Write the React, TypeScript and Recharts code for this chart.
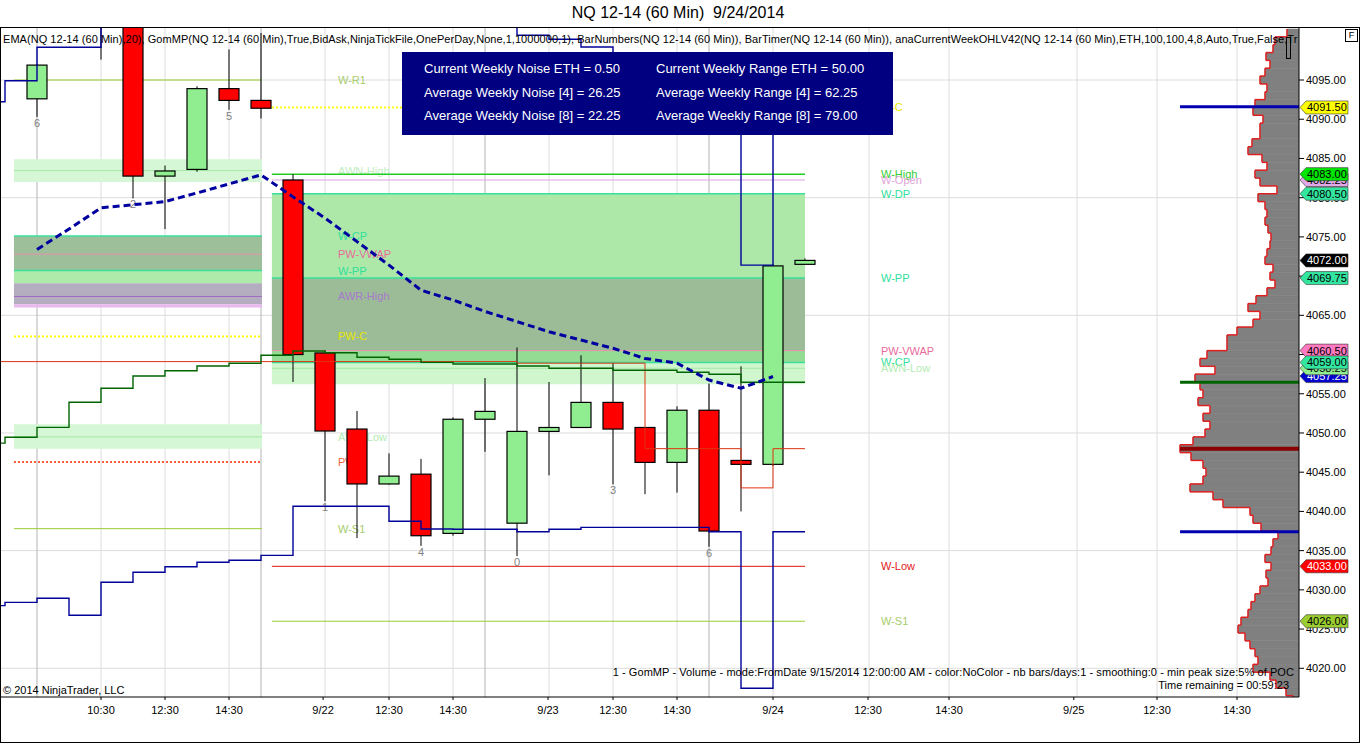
import React from "react";
import {
  ComposedChart,
  XAxis,
  YAxis,
  Bar,
  Line,
  ReferenceLine,
  ReferenceArea,
} from "recharts";

// hourly bar slots, 0 = first bar on screen
const slots = [-2, -1, 0, 1, 2, 3, 4, 5, 6, 7, 8, 9, 10, 11, 12, 13, 14, 15, 16, 17, 18, 19, 20, 21, 22, 23, 24];

// OHLC (bars 1-3 run off the top of the panel)
const opens = [null, null, 4092.6, 4103.5, 4108.0, 4104.5, 4082.75, 4083.6, 4093.9, 4092.4, 4082.25, 4060.2, 4050.5, 4043.5, 4044.75, 4037.2, 4051.75, 4038.5, 4050.2, 4050.7, 4053.9, 4050.7, 4046.25, 4052.9, 4046.5, 4046.0, 4071.5];
const highs = [null, null, 4097.0, 4110.0, 4112.0, 4106.0, 4084.1, 4094.2, 4098.9, 4101.0, 4083.0, 4060.5, 4052.8, 4047.4, 4046.7, 4052.0, 4057.0, 4060.9, 4056.5, 4059.9, 4058.9, 4050.7, 4053.4, 4056.3, 4058.5, 4071.5, 4072.25];
const lows = [null, null, 4090.3, 4102.5, 4097.6, 4079.9, 4076.0, 4083.3, 4091.2, 4090.1, 4056.5, 4041.3, 4036.6, 4043.4, 4035.6, 4036.9, 4047.6, 4034.3, 4044.6, 4050.7, 4043.45, 4042.2, 4042.4, 4035.5, 4040.0, 4045.8, 4071.5];
const closes = [null, null, 4096.9, 4108.0, 4106.0, 4082.75, 4083.4, 4093.9, 4092.4, 4091.4, 4060.0, 4050.25, 4043.5, 4044.5, 4036.9, 4051.75, 4052.75, 4050.2, 4050.7, 4053.9, 4050.5, 4046.25, 4052.9, 4037.5, 4046.0, 4071.3, 4072.0];
const barNumbers = ["", "", "6", "", "", "2", "", "", "5", "", "", "1", "", "", "4", "", "", "0", "", "", "3", "", "", "6", "", "", ""];

const ema20 = [null, null, 4073.4, 4076.0, 4078.7, 4079.1, 4079.5, 4080.6, 4081.75, 4082.9, 4080.1, 4077.4, 4074.4, 4071.4, 4068.2, 4066.95, 4065.5, 4064.2, 4062.9, 4061.85, 4060.8, 4059.5, 4058.9, 4056.75, 4055.7, 4057.2, null];

// GomMP step lines
const gomGreen = [4048.7, 4049.45, 4050.72, 4053.91, 4055.7, 4057.26, 4057.94, 4058.54, 4058.88, 4059.9, 4060.45, 4060.23, 4059.65, 4059.39, 4059.0, 4058.8, 4058.8, 4058.54, 4058.25, 4058.25, 4058.0, 4058.0, 4057.74, 4057.48, 4056.46, 4056.46, 4056.46];
const gomLow = [4027.99, 4028.41, 4028.93, 4026.76, 4030.96, 4032.24, 4032.95, 4033.51, 4033.77, 4034.4, 4040.65, 4040.65, 4040.65, 4038.74, 4037.76, 4037.72, 4037.72, 4037.41, 4037.72, 4037.97, 4037.97, 4037.97, 4037.97, 4037.41, 4017.45, 4037.41, 4037.41];
const gomHigh = [4092.23, 4094.9, 4099.17, 4099.17, 4103.2, 4104.1, 4104.6, 4105.0, 4105.2, 4105.5, 4104.0, 4103.8, 4103.5, 4103.2, 4102.9, 4102.6, 4102.2, 4100.7, 4100.2, 4099.2, 4098.3, 4097.2, 4097.2, 4097.2, 4071.4, 4091.6, 4091.6];
const gomRed = [4059.1, 4059.1, 4059.1, 4059.1, 4059.1, 4059.1, 4059.1, 4059.1, 4059.1, 4059.1, 4059.1, 4059.1, 4059.1, 4059.1, 4059.1, 4059.1, 4059.1, 4058.9, 4058.9, 4058.9, 4058.9, 4048.0, 4048.0, 4048.0, 4043.0, 4048.0, 4048.0];

// previous week levels (left block) and current week levels (right block)
const prevLevelNames = ["W-R1", "AWN-High", "W-CP", "PW-VWAP", "W-PP", "AWR-High", "PW-C", "AWN-Low", "PW-L", "W-S1"];
const prevLevelPrices = [4095.0, 4083.45, 4075.1, 4072.8, 4070.7, 4067.4, 4062.3, 4049.5, 4046.3, 4037.8];
const prevZoneLows = [4082.0, 4070.7, 4069.1, 4066.4, 4066.0, 4048.0];
const prevZoneHighs = [4084.9, 4075.1, 4070.7, 4069.1, 4066.4, 4051.1];

const curLevelNames = ["W-C", "W-High", "W-Open", "W-DP", "W-PP", "PW-VWAP", "W-CP", "AWN-Low", "W-Low", "W-S1"];
const curLevelPrices = [4091.5, 4083.0, 4082.25, 4080.5, 4069.75, 4060.5, 4059.0, 4058.25, 4033.0, 4026.0];
const curZoneLows = [4069.75, 4060.5, 4059.0, 4056.2];
const curZoneHighs = [4080.5, 4069.75, 4060.5, 4059.0];

// price markers on the right scale
const markerPrices = [4091.5, 4082.25, 4083.0, 4080.5, 4072.0, 4069.75, 4060.5, 4057.25, 4058.25, 4059.0, 4033.0, 4026.0];
const markerNames = ["W-C", "W-Open", "W-High", "W-DP", "Last", "W-PP", "PW-VWAP", "GomLow", "AWN-Low", "W-CP", "W-Low", "W-S1"];

// volume profile, one row per point
const profilePrices = [
  4016, 4017, 4018, 4019, 4020, 4021, 4022, 4023, 4024, 4025, 4026, 4027, 4028, 4029, 4030,
  4031, 4032, 4033, 4034, 4035, 4036, 4037, 4038, 4039, 4040, 4041, 4042, 4043, 4044, 4045,
  4046, 4047, 4048, 4049, 4050, 4051, 4052, 4053, 4054, 4055, 4056, 4057, 4058, 4059, 4060,
  4061, 4062, 4063, 4064, 4065, 4066, 4067, 4068, 4069, 4070, 4071, 4072, 4073, 4074, 4075,
  4076, 4077, 4078, 4079, 4080, 4081, 4082, 4083, 4084, 4085, 4086, 4087, 4088, 4089, 4090,
  4091, 4092, 4093, 4094, 4095, 4096, 4097, 4098, 4099, 4100, 4101,
];
const profileVol = [
  6, 13, 23, 29, 46, 41, 44, 49, 54, 61, 58, 51, 48, 44, 39,
  31, 33, 28, 34, 28, 26, 21, 38, 46, 49, 76, 86, 109, 96, 93,
  96, 108, 119, 106, 94, 89, 96, 89, 101, 96, 99, 104, 84, 99, 92,
  72, 72, 62, 46, 39, 51, 43, 32, 24, 29, 26, 34, 32, 29, 28,
  31, 34, 32, 34, 41, 22, 39, 44, 32, 37, 51, 47, 39, 39, 36,
  46, 44, 34, 32, 39, 34, 29, 33, 26, 24, 12,
];

const priceTicks = [4020, 4025, 4030, 4035, 4040, 4045, 4050, 4055, 4060, 4065, 4070, 4075, 4080, 4085, 4090, 4095];
const gridPrices = [4020, 4035, 4050, 4065, 4080, 4095];
const timeTicks = [2, 4, 6, 8.94, 11, 13, 15.97, 18, 20, 23, 25.97, 28.5, 32.4, 35, 37.5];
const timeLabels = ["10:30", "12:30", "14:30", "9/22", "12:30", "14:30", "9/23", "12:30", "14:30", "9/24", "12:30", "14:30", "9/25", "12:30", "14:30"];
const gridSlots = [2, 4, 6, 9, 11, 13, 16, 18, 20, 23, 26, 28.5, 32.5, 35, 37.5];
const sessionSlots = [0, 7, 14, 21];

const X_MIN = -1.125;
const X_MAX = 39.4375;
const Y_MIN = 4016.34;
const Y_MAX = 4101.63;
const PREV_START = -0.72;
const PREV_END = 7.03;
const CUR_START = 7.34;
const CUR_END = 24.0;
const PROFILE_LEFT = 35.72;
const VOL_PER_SLOT = 32;

const FONT = '"Liberation Sans", Arial, sans-serif';

const LEVEL_STYLE: Record<string, { stroke: string; width: number; dash?: string; text: string }> = {
  "W-R1": { stroke: "#9acd32", width: 1, text: "#a6cc6a" },
  "W-S1": { stroke: "#9acd32", width: 1, text: "#a6cc6a" },
  "AWN-High": { stroke: "#a4e8a4", width: 1, text: "#bfeebf" },
  "AWN-Low": { stroke: "#a4e8a4", width: 1, text: "#b4ecb4" },
  "W-CP": { stroke: "#38e09c", width: 1.5, text: "#2ee09a" },
  "W-PP": { stroke: "#38e09c", width: 1.5, text: "#2ee09a" },
  "W-DP": { stroke: "#38e09c", width: 1.5, text: "#2ee09a" },
  "PW-VWAP": { stroke: "#e890b0", width: 1, text: "#ea6a9c" },
  "AWR-High": { stroke: "#a06cc4", width: 1, text: "#a878cc" },
  "PW-C": { stroke: "#ffff00", width: 2, dash: "2 2", text: "#e6e600" },
  "W-C": { stroke: "#ffff00", width: 2, dash: "2 2", text: "#e6e600" },
  "PW-L": { stroke: "#ff5a3c", width: 2, dash: "2 2", text: "#f06040" },
  "W-High": { stroke: "#22cc22", width: 1.5, text: "#33cc33" },
  "W-Open": { stroke: "#d8a4e0", width: 1, text: "#e0a4d8" },
  "W-Low": { stroke: "#e01010", width: 1, text: "#e02020" },
};
const PREV_ZONE_FILLS = ["#d5f7d5", "#9dbf9a", "#aeeaa9", "#b4acbf", "#e8b8ee", "#d5f7d5"];
const CUR_ZONE_FILLS = ["#ade8a9", "#9cbc98", "#94dc94", "#d0f6ce"];
const MARKER_STYLE: Record<string, { bg: string; fg: string }> = {
  "W-C": { bg: "#ffff00", fg: "#000" },
  "W-Open": { bg: "#e0a8e8", fg: "#000" },
  "W-High": { bg: "#00e600", fg: "#000" },
  "W-DP": { bg: "#33e6a0", fg: "#000" },
  Last: { bg: "#000000", fg: "#fff" },
  "W-PP": { bg: "#33e6a0", fg: "#000" },
  "PW-VWAP": { bg: "#ff7ac0", fg: "#000" },
  GomLow: { bg: "#0000cd", fg: "#fff" },
  "AWN-Low": { bg: "#90ee90", fg: "#000" },
  "W-CP": { bg: "#33e6a0", fg: "#000" },
  "W-Low": { bg: "#ff0000", fg: "#fff" },
  "W-S1": { bg: "#9acd32", fg: "#000" },
};

const rows = slots.map((i, k) => ({
  i,
  o: opens[k],
  h: highs[k],
  l: lows[k],
  c: closes[k],
  num: barNumbers[k],
  ema: ema20[k],
  grn: gomGreen[k],
  lo: gomLow[k],
  hi: gomHigh[k],
  red: gomRed[k],
}));

const last = (arr: number[]) => arr[arr.length - 1];
const profX = profileVol.map((v) => X_MAX - v / VOL_PER_SLOT);

function Candle(props: any) {
  const { x, y, width, height, payload } = props;
  if (!payload || payload.o == null) return null;
  const { o, h, l, c, num } = payload;
  const k = h > l ? height / (h - l) : 0;
  const toY = (v: number) => y + (h - v) * k;
  const cx = x + width / 2;
  const top = toY(Math.max(o, c));
  const bot = toY(Math.min(o, c));
  return (
    <g>
      <line x1={cx} x2={cx} y1={y} y2={y + height} stroke="#000" strokeWidth={1} />
      <rect
        x={x}
        y={top}
        width={width}
        height={Math.max(bot - top, 1.5)}
        fill={c >= o ? "#90ee90" : "#ff0000"}
        stroke="#000"
        strokeWidth={1.2}
      />
      {num ? (
        <text x={cx} y={y + height + 10} textAnchor="middle" fontSize={11} fill="#808080" fontFamily={FONT}>
          {num}
        </text>
      ) : null}
    </g>
  );
}

function levelLabel(text: string, color: string) {
  return (p: any) => {
    const vb = p.viewBox;
    if (!vb) return null;
    return (
      <text x={vb.x + vb.width + 76} y={vb.y + 4} fontSize={11} fill={color} fontFamily={FONT}>
        {text}
      </text>
    );
  };
}

function flagLabel(text: string, bg: string, fg: string) {
  return (p: any) => {
    const vb = p.viewBox;
    if (!vb) return null;
    const x0 = vb.x + vb.width;
    const yc = vb.y;
    const hh = 6.5;
    const pts = `${x0 + 1},${yc} ${x0 + 7},${yc - hh} ${x0 + 49},${yc - hh} ${x0 + 49},${yc + hh} ${x0 + 7},${yc + hh}`;
    return (
      <g>
        <polygon points={pts} fill={bg} stroke="#333" strokeWidth={0.6} />
        <text x={x0 + 8} y={yc + 4} fontSize={11} fill={fg} fontFamily={FONT}>
          {text}
        </text>
      </g>
    );
  };
}

function levelLines(names: string[], prices: number[], x1: number, x2: number, tag: string) {
  return names.map((name, k) => {
    const s = LEVEL_STYLE[name];
    return (
      <ReferenceLine
        key={tag + k}
        segment={[
          { x: x1, y: prices[k] },
          { x: x2, y: prices[k] },
        ]}
        stroke={s.stroke}
        strokeWidth={s.width}
        strokeDasharray={s.dash}
        ifOverflow="hidden"
        zIndex={150}
        label={levelLabel(name, s.text)}
      />
    );
  });
}

const topLine =
  "EMA(NQ 12-14 (60 Min),20), GomMP(NQ 12-14 (60 Min),True,BidAsk,NinjaTickFile,OnePerDay,None,1,1000000,1), BarNumbers(NQ 12-14 (60 Min)), BarTimer(NQ 12-14 (60 Min)), anaCurrentWeekOHLV42(NQ 12-14 (60 Min),ETH,100,100,4,8,Auto,True,False,Tr";

export default function App() {
  const txt: React.CSSProperties = { position: "absolute", fontSize: 11, lineHeight: "13px", whiteSpace: "nowrap", color: "#000" };
  return (
    <div
      style={{
        position: "absolute",
        left: 0,
        top: 0,
        width: 1360,
        height: 743,
        background: "#fff",
        overflow: "hidden",
        fontFamily: FONT,
      }}
    >
      <div style={{ position: "absolute", left: 0, top: 3, width: 1356, textAlign: "center", fontSize: 16, lineHeight: "20px", whiteSpace: "pre" }}>
        {"NQ 12-14 (60 Min)  9/24/2014"}
      </div>

      <div style={{ position: "absolute", left: 0, top: 0 }}>
        <ComposedChart width={1360} height={743} data={rows} margin={{ top: 28, right: 0, bottom: 0, left: 1 }}>
          <XAxis
            type="number"
            dataKey="i"
            domain={[X_MIN, X_MAX]}
            allowDataOverflow
            ticks={timeTicks}
            interval={0}
            tickFormatter={(v: number) => timeLabels[timeTicks.indexOf(v)] ?? ""}
            height={46}
            tickSize={3}
            tickMargin={6}
            tick={{ fontSize: 11, fill: "#000", fontFamily: FONT }}
            axisLine={{ stroke: "#000" }}
            tickLine={{ stroke: "#000" }}
          />
          <YAxis
            orientation="right"
            type="number"
            domain={[Y_MIN, Y_MAX]}
            allowDataOverflow
            ticks={priceTicks}
            interval={0}
            tickFormatter={(v: number) => v.toFixed(2)}
            width={61}
            tickSize={5}
            tick={{ fontSize: 11, fill: "#000", fontFamily: FONT }}
            axisLine={{ stroke: "#000" }}
            tickLine={{ stroke: "#000" }}
          />

          {/* grid */}
          {gridPrices.map((p) => (
            <ReferenceLine key={"gy" + p} y={p} stroke="#dcdcdc" strokeWidth={1} zIndex={-100} />
          ))}
          {gridSlots.map((s) => (
            <ReferenceLine key={"gx" + s} x={s} stroke="#dcdcdc" strokeWidth={1} zIndex={-100} />
          ))}
          {sessionSlots.map((s) => (
            <ReferenceLine key={"sx" + s} x={s} stroke="#b4b4b4" strokeWidth={1} zIndex={-100} />
          ))}

          {/* weekly zones */}
          {prevZoneLows.map((lo, k) => (
            <ReferenceArea
              key={"pz" + k}
              x1={PREV_START}
              x2={PREV_END}
              y1={lo}
              y2={prevZoneHighs[k]}
              fill={PREV_ZONE_FILLS[k]}
              fillOpacity={1}
              stroke="none"
              ifOverflow="hidden"
            />
          ))}
          {curZoneLows.map((lo, k) => (
            <ReferenceArea
              key={"cz" + k}
              x1={CUR_START}
              x2={CUR_END}
              y1={lo}
              y2={curZoneHighs[k]}
              fill={CUR_ZONE_FILLS[k]}
              fillOpacity={1}
              stroke="none"
              ifOverflow="hidden"
            />
          ))}

          {/* volume profile */}
          {profilePrices.map((p, k) => (
            <ReferenceArea
              key={"pa" + k}
              x1={profX[k]}
              x2={X_MAX}
              y1={p - 0.5}
              y2={p + 0.5}
              fill="#808080"
              fillOpacity={1}
              stroke="#808080"
              strokeWidth={0.6}
              ifOverflow="hidden"
            />
          ))}
          {profilePrices.map((p, k) => (
            <ReferenceLine
              key={"pv" + k}
              segment={[
                { x: profX[k], y: p - 0.5 },
                { x: profX[k], y: p + 0.5 },
              ]}
              stroke="#e02020"
              strokeWidth={1.5}
              ifOverflow="hidden"
            />
          ))}
          {profilePrices.slice(1).map((p, k) => (
            <ReferenceLine
              key={"ph" + k}
              segment={[
                { x: profX[k], y: p - 0.5 },
                { x: profX[k + 1], y: p - 0.5 },
              ]}
              stroke="#e02020"
              strokeWidth={1.5}
              ifOverflow="hidden"
            />
          ))}
          <ReferenceLine segment={[{ x: PROFILE_LEFT, y: last(gomHigh) }, { x: X_MAX, y: last(gomHigh) }]} stroke="#0000b0" strokeWidth={3} ifOverflow="hidden" />
          <ReferenceLine segment={[{ x: PROFILE_LEFT, y: last(gomGreen) }, { x: X_MAX, y: last(gomGreen) }]} stroke="#006400" strokeWidth={3} ifOverflow="hidden" />
          <ReferenceLine segment={[{ x: PROFILE_LEFT, y: last(gomRed) }, { x: X_MAX, y: last(gomRed) }]} stroke="#8b0000" strokeWidth={4} ifOverflow="hidden" />
          <ReferenceLine segment={[{ x: PROFILE_LEFT, y: last(gomLow) }, { x: X_MAX, y: last(gomLow) }]} stroke="#0000b0" strokeWidth={3} ifOverflow="hidden" />

          {/* weekly levels */}
          {levelLines(prevLevelNames, prevLevelPrices, PREV_START, PREV_END, "pl")}
          {levelLines(curLevelNames, curLevelPrices, CUR_START, CUR_END, "cl")}

          {/* candles */}
          <Bar
            dataKey={(d: any) => (d.o == null ? null : [d.l, d.h])}
            barSize={20}
            shape={(p: any) => <Candle {...p} />}
            isAnimationActive={false}
          />

          <Line dataKey="red" type="stepAfter" stroke="#dd3311" strokeWidth={1} dot={false} isAnimationActive={false} />
          <Line dataKey="grn" type="stepAfter" stroke="#006400" strokeWidth={1.4} dot={false} isAnimationActive={false} />
          <Line dataKey="lo" type="stepAfter" stroke="#000099" strokeWidth={1.4} dot={false} isAnimationActive={false} />
          <Line dataKey="hi" type="stepAfter" stroke="#000099" strokeWidth={1.4} dot={false} isAnimationActive={false} />
          <Line
            dataKey="ema"
            type="linear"
            stroke="#0000a0"
            strokeWidth={3}
            strokeDasharray="7 4"
            dot={false}
            isAnimationActive={false}
          />

          {/* right scale markers */}
          {markerPrices.map((p, k) => {
            const s = MARKER_STYLE[markerNames[k]];
            return (
              <ReferenceLine
                key={"mk" + k}
                y={p}
                stroke="none"
                zIndex={2100}
                label={flagLabel(p.toFixed(2), s.bg, s.fg)}
              />
            );
          })}
        </ComposedChart>
      </div>

      {/* frame */}
      <div style={{ position: "absolute", left: 0, top: 27, width: 1360, height: 716, border: "1px solid #000", boxSizing: "border-box", pointerEvents: "none" }} />
      <div style={{ position: "absolute", left: 1345, top: 29, width: 11, height: 11, border: "1px solid #000", fontSize: 9, lineHeight: "11px", textAlign: "center", background: "#fff" }}>
        F
      </div>
      <div style={{ position: "absolute", left: 1286, top: 37, width: 3, height: 20, border: "1px solid #000" }} />

      <div style={{ ...txt, left: 3, top: 33, letterSpacing: 0.04 }}>{topLine}</div>

      <div style={{ position: "absolute", left: 402, top: 52, width: 491, height: 83, background: "#000080", color: "#fff", fontSize: 13 }}>
        {[
          ["Current Weekly Noise ETH = 0.50", "Current Weekly Range ETH = 50.00"],
          ["Average Weekly Noise [4] = 26.25", "Average Weekly Range [4] = 62.25"],
          ["Average Weekly Noise [8] = 22.25", "Average Weekly Range [8] = 79.00"],
        ].map((r, k) => (
          <React.Fragment key={k}>
            <div style={{ position: "absolute", left: 22, top: 9 + k * 23.5, lineHeight: "16px", whiteSpace: "nowrap" }}>{r[0]}</div>
            <div style={{ position: "absolute", left: 254, top: 9 + k * 23.5, lineHeight: "16px", whiteSpace: "nowrap" }}>{r[1]}</div>
          </React.Fragment>
        ))}
      </div>

      <div style={{ ...txt, right: 1360 - 1294, top: 666, letterSpacing: 0.07 }}>
        1 - GomMP  - Volume - mode:FromDate 9/15/2014 12:00:00 AM - color:NoColor - nb bars/days:1 - smoothing:0 - min peak size:5% of POC
      </div>
      <div style={{ ...txt, right: 1360 - 1289, top: 679 }}>Time remaining = 00:59:23</div>
      <div style={{ ...txt, left: 3, top: 684 }}>© 2014 NinjaTrader, LLC</div>
    </div>
  );
}
